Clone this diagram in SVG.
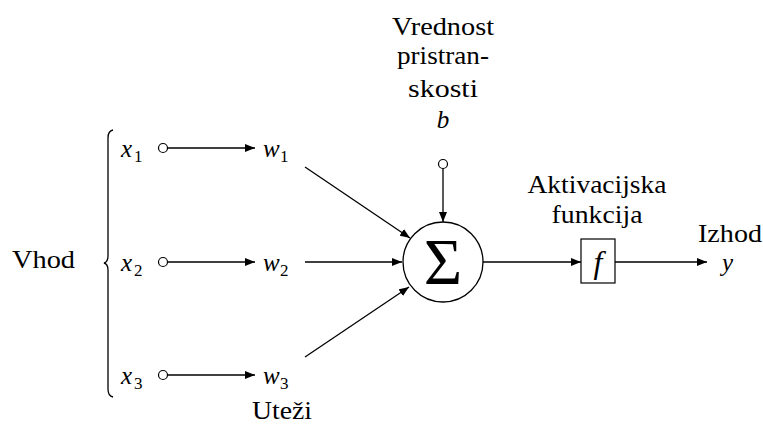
<svg xmlns="http://www.w3.org/2000/svg" width="763" height="424" viewBox="0 0 763 424">
<defs>
<marker id="ah" viewBox="0 0 10 8" refX="10" refY="4" markerWidth="10" markerHeight="8" markerUnits="userSpaceOnUse" orient="auto">
<path d="M0,0 L10,4 L0,8 Z" fill="#000"/>
</marker>
</defs>
<text x="12" y="268" font-family="Liberation Serif" font-size="25" textLength="63" lengthAdjust="spacingAndGlyphs">Vhod</text>
<text x="282" y="419" font-family="Liberation Serif" font-size="25" text-anchor="middle" textLength="60" lengthAdjust="spacingAndGlyphs">Uteži</text>
<text x="443" y="35" font-family="Liberation Serif" font-size="25" text-anchor="middle" textLength="102" lengthAdjust="spacingAndGlyphs">Vrednost</text>
<text x="443" y="64" font-family="Liberation Serif" font-size="25" text-anchor="middle" textLength="92" lengthAdjust="spacingAndGlyphs">pristran-</text>
<text x="443" y="97" font-family="Liberation Serif" font-size="25" text-anchor="middle" textLength="70" lengthAdjust="spacingAndGlyphs">skosti</text>
<text x="443" y="128" font-family="Liberation Serif" font-size="25" text-anchor="middle" font-style="italic">b</text>
<text x="597" y="193" font-family="Liberation Serif" font-size="25" text-anchor="middle" textLength="139" lengthAdjust="spacingAndGlyphs">Aktivacijska</text>
<text x="597" y="223" font-family="Liberation Serif" font-size="25" text-anchor="middle" textLength="91" lengthAdjust="spacingAndGlyphs">funkcija</text>
<text x="730" y="242" font-family="Liberation Serif" font-size="25" text-anchor="middle" textLength="64" lengthAdjust="spacingAndGlyphs">Izhod</text>
<g id="brace">
<path stroke="#000" stroke-width="1.3" fill="none" d="M113,130 Q108,131 108,138 L108,256 Q108,262 104,263 Q108,264 108,270 L108,389 Q108,396 113,397"/>
</g>
<g id="x1"><text x="121" y="157" font-family="Liberation Serif" font-size="25" font-style="italic">x</text><text x="134" y="162" font-family="Liberation Serif" font-size="17">1</text><circle fill="#fff" stroke="#000" stroke-width="1.2" cx="163" cy="148" r="4.5"/></g>
<g id="x2"><text x="121" y="271" font-family="Liberation Serif" font-size="25" font-style="italic">x</text><text x="134" y="276" font-family="Liberation Serif" font-size="17">2</text><circle fill="#fff" stroke="#000" stroke-width="1.2" cx="163" cy="262" r="4.5"/></g>
<g id="x3"><text x="121" y="384" font-family="Liberation Serif" font-size="25" font-style="italic">x</text><text x="134" y="389" font-family="Liberation Serif" font-size="17">3</text><circle fill="#fff" stroke="#000" stroke-width="1.2" cx="163" cy="375" r="4.5"/></g>
<g id="w1"><text x="263" y="157" font-family="Liberation Serif" font-size="25" font-style="italic">w</text><text x="280" y="162" font-family="Liberation Serif" font-size="17">1</text></g>
<g id="w2"><text x="263" y="271" font-family="Liberation Serif" font-size="25" font-style="italic">w</text><text x="280" y="276" font-family="Liberation Serif" font-size="17">2</text></g>
<g id="w3"><text x="263" y="384" font-family="Liberation Serif" font-size="25" font-style="italic">w</text><text x="280" y="389" font-family="Liberation Serif" font-size="17">3</text></g>
<g id="bias"><circle fill="#fff" stroke="#000" stroke-width="1.2" cx="443" cy="164" r="4.5"/></g>
<g id="sum">
<circle cx="443" cy="262" r="40" fill="#fff" stroke="#000" stroke-width="1.3"/>
<text x="443" y="284" font-family="Liberation Serif" font-size="66" text-anchor="middle">Σ</text>
</g>
<g id="activation">
<rect x="581" y="239" width="34" height="44" fill="#fff" stroke="#000" stroke-width="1.2"/>
<text x="598" y="273" font-family="Liberation Serif" font-size="32" text-anchor="middle" font-style="italic">f</text>
</g>
<g id="output"><text x="722" y="271" font-family="Liberation Serif" font-size="25" font-style="italic">y</text></g>
<g id="connectors" stroke="#000" stroke-width="1.3" fill="none" marker-end="url(#ah)">
<line x1="167.5" y1="148" x2="255" y2="148"/>
<line x1="167.5" y1="262" x2="255" y2="262"/>
<line x1="167.5" y1="375" x2="255" y2="375"/>
<line x1="305" y1="167" x2="410" y2="238"/>
<line x1="305" y1="262" x2="402" y2="262"/>
<line x1="305" y1="357" x2="409" y2="287"/>
<line x1="443" y1="168.5" x2="443" y2="222"/>
<line x1="483" y1="262" x2="581" y2="262"/>
<line x1="615" y1="262" x2="707" y2="262"/>
</g>
</svg>
